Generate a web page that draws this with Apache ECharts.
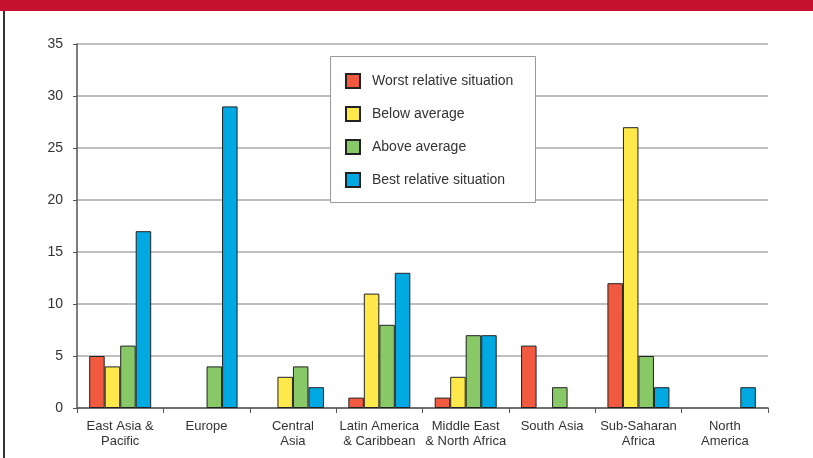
<!DOCTYPE html>
<html>
<head>
<meta charset="utf-8">
<script src="https://cdn.jsdelivr.net/npm/echarts@6/dist/echarts.min.js"></script>
<style>
  html, body { margin: 0; padding: 0; background: #fff; }
  #main { width: 813px; height: 458px; }
</style>
</head>
<body>
<div id="main"></div>
<script>
var regions = ['East Asia &\nPacific', 'Europe', 'Central\nAsia', 'Latin America\n& Caribbean',
  'Middle East\n& North Africa', 'South Asia', 'Sub-Saharan\nAfrica', 'North\nAmerica']
// 0 = no bar in that slot
var worst = [5, 0, 0, 1, 1, 6, 12, 0]
var below = [4, 0, 3, 11, 3, 0, 27, 0]
var above = [6, 4, 4, 8, 7, 2, 5, 0]
var best = [17, 29, 2, 13, 7, 0, 2, 2]
var seriesNames = ['Worst relative situation', 'Below average', 'Above average', 'Best relative situation']
var colors = ['#F15A3E', '#FFE94A', '#88C866', '#00A9E2']

var font = '"Liberation Sans Narrow", "Liberation Sans", Arial, sans-serif'

function mkSeries(name, data, color) {
  return {
    name: name,
    type: 'bar',
    data: data.map(function (v) { return v === 0 ? null : v }),
    barWidth: 15.5,
    barGap: '0%',
    itemStyle: { color: color, borderColor: '#222', borderWidth: 1 }
  }
}

var chart = echarts.init(document.getElementById('main'))
var option = {
  animation: false,
  backgroundColor: '#fff',
  textStyle: { fontFamily: font },
  grid: { left: 77, right: 45, top: 44, bottom: 50 },
  graphic: [
    { type: 'rect', shape: { x: 0, y: 0, width: 813, height: 11 }, style: { fill: '#C41230' }, z: 10 },
    { type: 'rect', shape: { x: 3, y: 11, width: 2, height: 447 }, style: { fill: '#333' }, z: 10 },
    { type: 'rect', shape: { x: 330.5, y: 56.5, width: 205, height: 146 },
      style: { fill: '#fff', stroke: '#999', lineWidth: 1 }, z: 3 }
  ],
  legend: {
    orient: 'vertical',
    left: 340,
    top: 68,
    itemWidth: 14,
    itemHeight: 14,
    itemGap: 17,
    icon: 'rect',
    z: 5,
    data: seriesNames,
    textStyle: { fontFamily: font, fontSize: 14, color: '#333', padding: [0, 0, 0, 7] }
  },
  xAxis: {
    type: 'category',
    data: regions,
    axisLine: { lineStyle: { color: '#555', width: 1.5 } },
    axisTick: { show: true, length: 5, lineStyle: { color: '#555' } },
    axisLabel: { interval: 0, fontFamily: font, fontSize: 13, color: '#333', lineHeight: 15, margin: 11 }
  },
  yAxis: {
    type: 'value',
    min: 0,
    max: 35,
    interval: 5,
    axisLine: { show: true, lineStyle: { color: '#555', width: 1.5 } },
    axisTick: { show: true, length: 4, lineStyle: { color: '#555' } },
    axisLabel: { fontFamily: font, fontSize: 14, color: '#333', margin: 14 },
    splitLine: { lineStyle: { color: '#aaa', width: 1.5 } }
  },
  series: [
    mkSeries(seriesNames[0], worst, colors[0]),
    mkSeries(seriesNames[1], below, colors[1]),
    mkSeries(seriesNames[2], above, colors[2]),
    mkSeries(seriesNames[3], best, colors[3])
  ]
}
chart.setOption(option)
</script>
</body>
</html>
